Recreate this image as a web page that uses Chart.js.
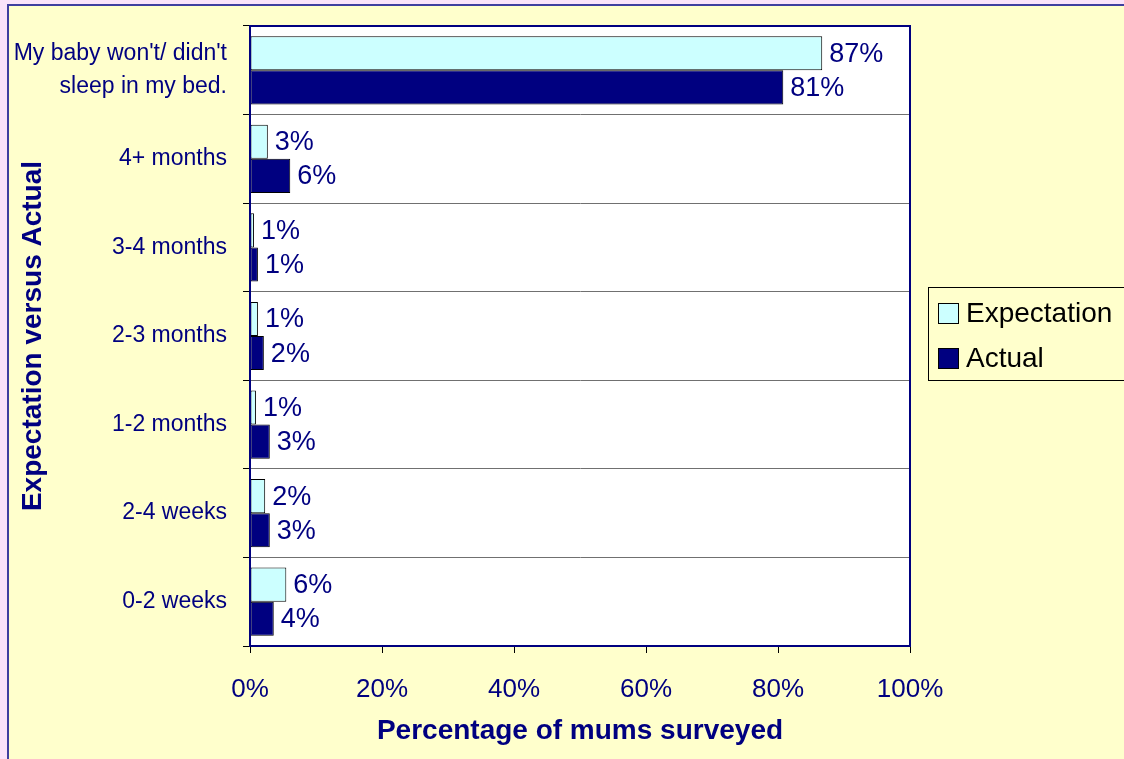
<!DOCTYPE html>
<html>
<head>
<meta charset="utf-8">
<script src="https://cdn.jsdelivr.net/npm/chart.js@4.4.0/dist/chart.umd.min.js"></script>
<style>
html, body { margin: 0; padding: 0; background: #FFFFCC; }
</style>
</head>
<body>
<canvas id="mycanvas" width="1124" height="759"></canvas>
<script>
// values (percent of mums)
var categories = [["My baby won't/ didn't", "sleep in my bed."], "4+ months", "3-4 months", "2-3 months", "1-2 months", "2-4 weeks", "0-2 weeks"];
var expectation = [86.7, 2.7, 0.6, 1.2, 0.9, 2.3, 5.5];
var actual = [80.8, 6.1, 1.2, 2.1, 3.0, 3.0, 3.6];
var seriesNames = ['Expectation', 'Actual'];
var xTicks = [0, 20, 40, 60, 80, 100];

var NAVY = '#000080';
var FONT = "'Liberation Sans', Arial, sans-serif";

// page frame + white plot background
var framePlugin = {
	id: 'frame',
	beforeDraw: function(chart) {
		var ctx = chart.ctx, w = chart.width, h = chart.height, a = chart.chartArea;
		ctx.save();
		ctx.fillStyle = '#FAE3FA';
		ctx.fillRect(0, 0, w, h);
		ctx.fillStyle = '#3F3F9F';
		ctx.fillRect(7, 4, w - 7, h - 4);
		ctx.fillStyle = '#FFFFCC';
		ctx.fillRect(9, 6, w - 9, h - 6);
		ctx.fillStyle = '#FFFFFF';
		ctx.fillRect(a.left, a.top, a.right - a.left, a.bottom - a.top);
		ctx.restore();
	},
	afterDatasetsDraw: function(chart) {
		var ctx = chart.ctx;
		ctx.save();
		ctx.font = '27px ' + FONT;
		ctx.fillStyle = NAVY;
		ctx.textAlign = 'left';
		ctx.textBaseline = 'middle';
		chart.data.datasets.forEach(function(ds, i) {
			chart.getDatasetMeta(i).data.forEach(function(el, j) {
				ctx.fillText(Math.round(ds.data[j]) + '%', el.x + 7, el.y + 1);
			});
		});
		ctx.restore();
	},
	afterDraw: function(chart) {
		var ctx = chart.ctx, a = chart.chartArea;
		ctx.save();
		// plot border
		ctx.strokeStyle = NAVY;
		ctx.lineWidth = 2;
		ctx.strokeRect(a.left, a.top, a.right - a.left, a.bottom - a.top);
		// legend
		ctx.strokeStyle = '#000000';
		ctx.lineWidth = 1;
		ctx.strokeRect(928.5, 287.5, 240, 93);
		ctx.font = '28px ' + FONT;
		ctx.textBaseline = 'middle';
		var ys = [313, 358];
		chart.data.datasets.forEach(function(ds, i) {
			ctx.fillStyle = ds.backgroundColor;
			ctx.fillRect(938, ys[i] - 10, 21, 21);
			ctx.strokeRect(938.5, ys[i] - 9.5, 20, 20);
			ctx.fillStyle = '#000000';
			ctx.fillText(ds.label, 966, ys[i] + 1);
		});
		ctx.restore();
	}
};

var ctx = document.getElementById('mycanvas');

var barGraph = new Chart(ctx, {
	type: 'bar',
	data: {
		labels: categories,
		datasets: [
			{
				label: seriesNames[0],
				data: expectation,
				backgroundColor: '#CCFFFF',
				borderColor: '#000000',
				borderWidth: 1,
				borderSkipped: false
			},
			{
				label: seriesNames[1],
				data: actual,
				backgroundColor: NAVY,
				borderColor: '#000000',
				borderWidth: 1,
				borderSkipped: false
			}
		]
	},
	options: {
		indexAxis: 'y',
		responsive: false,
		animation: false,
		datasets: {
			bar: { categoryPercentage: 0.77, barPercentage: 1.0 }
		},
		layout: { padding: { left: 8, top: 26, right: 214, bottom: 0 } },
		plugins: {
			legend: { display: false },
			tooltip: { enabled: false }
		},
		scales: {
			x: {
				min: 0,
				max: 100,
				afterFit: function(scale) {
					scale.height = 113;
					scale.paddingLeft = 0;
					scale.paddingRight = 0;
				},
				afterBuildTicks: function(scale) {
					scale.ticks = xTicks.map(function(v) { return { value: v }; });
				},
				ticks: {
					color: NAVY,
					font: { family: FONT, size: 26 },
					padding: 21,
					maxRotation: 0,
					callback: function(v) { return v + '%'; }
				},
				grid: {
					drawOnChartArea: false,
					drawTicks: true,
					tickLength: 7,
					tickColor: '#000000'
				},
				border: { display: true, color: NAVY, width: 2 },
				title: {
					display: true,
					text: 'Percentage of mums surveyed',
					color: NAVY,
					font: { family: FONT, size: 28, weight: 'bold' },
					padding: { top: 0, bottom: 11 }
				}
			},
			y: {
				afterFit: function(scale) {
					scale.width = 242;
					scale.paddingTop = 0;
					scale.paddingBottom = 0;
				},
				ticks: {
					color: NAVY,
					font: { family: FONT, size: 23, lineHeight: 1.45 },
					padding: 16
				},
				grid: {
					color: '#707070',
					tickLength: 7,
					tickColor: '#000000'
				},
				border: { display: true, color: NAVY, width: 2 },
				title: {
					display: true,
					text: 'Expectation versus Actual',
					color: NAVY,
					font: { family: FONT, size: 28, weight: 'bold' },
					padding: { top: 8, bottom: 0 }
				}
			}
		}
	},
	plugins: [framePlugin]
});
</script>
</body>
</html>
